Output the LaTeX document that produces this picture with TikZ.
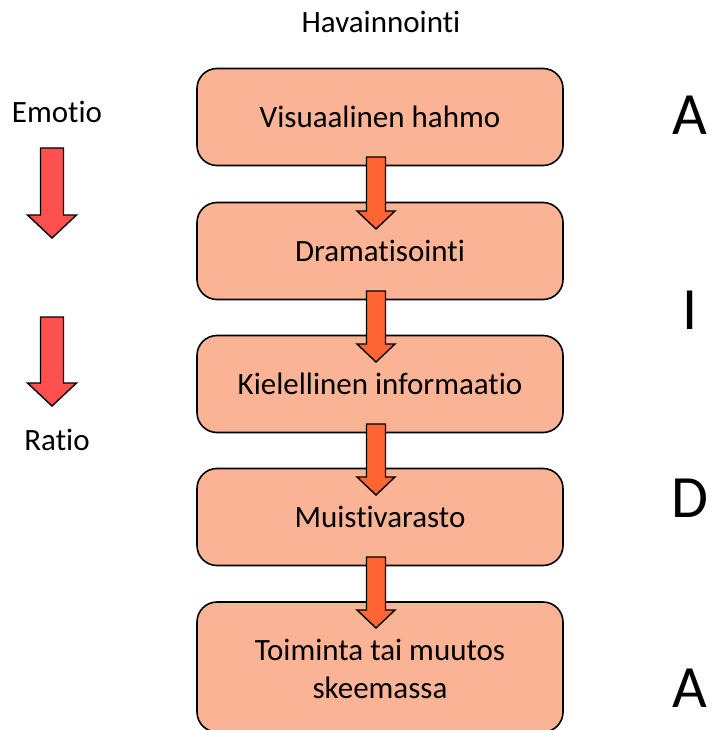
\documentclass[tikz,border=0pt]{standalone}
\usepackage{fontspec}
\setmainfont[Ligatures=NoCommon]{Carlito}
\usetikzlibrary{shapes.arrows}
\definecolor{boxfill}{HTML}{FBB396}
\definecolor{flowarrow}{HTML}{FF6633}
\definecolor{redarrow}{HTML}{FF5050}
\tikzset{
  stage/.style={draw=black, line width=1.6pt, fill=boxfill, rounded corners=20pt,
    minimum width=366pt, minimum height=97pt, inner sep=0pt, font=\fontsize{31}{38}\selectfont, align=center},
  lbl/.style={inner sep=0pt, font=\fontsize{31}{38}\selectfont},
  big/.style={inner sep=0pt, font=\fontsize{60}{60}\selectfont},
}
\newcommand{\blockarrow}[7]{% color, cx, top, headstart, tip, halfshaft, halfhead
  \draw[line width=1.4pt, fill=#1, line join=miter]
    (#2-#6,#3) -- (#2+#6,#3) -- (#2+#6,#4) -- (#2+#7,#4) -- (#2,#5)
    -- (#2-#7,#4) -- (#2-#6,#4) -- cycle;}
\begin{document}
\begin{tikzpicture}[x=1pt,y=-1pt]
\useasboundingbox (0,0) rectangle (712,730);
\begin{scope}
\clip (0,0) rectangle (712,730);
\node[stage] (b1) at (380,117) {Visuaalinen hahmo};
\node[stage] (b2) at (380,251) {Dramatisointi};
\node[stage] (b3) at (380,384) {Kielellinen informaatio};
\node[stage] (b4) at (380,517) {Muistivarasto};
\node[stage, minimum height=130pt] (b5) at (380,667) {};
\end{scope}
\node[lbl, align=center] (t5) at (380,669) {Toiminta tai muutos\\skeemassa};
\blockarrow{flowarrow}{376}{157}{211}{229}{9.5}{19}
\blockarrow{flowarrow}{376}{291}{344}{362}{9.5}{19}
\blockarrow{flowarrow}{376}{424}{477}{495}{9.5}{19}
\blockarrow{flowarrow}{376}{557}{610}{628}{9.5}{19}
\node[lbl] (hav) at (381,22) {Havainnointi};
\node[lbl] (emo) at (57,112) {Emotio};
\node[lbl] (rat) at (57,440) {Ratio};
\blockarrow{redarrow}{52}{148}{215}{238}{11.5}{24.5}
\blockarrow{redarrow}{52}{317}{383}{406}{11.5}{24.5}
\node[big] (a1) at (690,115) {A};
\node[big] (i1) at (690,310) {I};
\node[big] (d1) at (690,498) {D};
\node[big] (a2) at (690,688) {A};
\end{tikzpicture}
\end{document}
